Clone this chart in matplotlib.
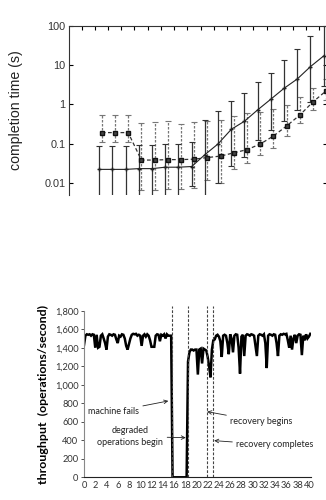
import matplotlib
matplotlib.use("Agg")
import matplotlib.pyplot as plt
import numpy as np

# ---- top chart: completion time (log scale) ----
steps = list(range(1, 19))
solid_mid = [0.022, 0.022, 0.022, 0.023, 0.023, 0.025, 0.025, 0.026, 0.052,
             0.098, 0.23, 0.37, 0.72, 1.35, 2.55, 4.4, 9.1, 17]
solid_hi = [0.087, 0.087, 0.087, 0.092, 0.09, 0.1, 0.1, 0.11, 0.4,
            0.67, 1.23, 1.9, 3.6, 6.4, 13.4, 25, 55, 150]
solid_lo = [0.003, 0.003, 0.003, 0.003, 0.003, 0.003, 0.003, 0.0083, 0.003,
            0.01, 0.027, 0.045, 0.12, 0.22, 0.38, 0.72, 1.17, 3.0]
dash_mid = [0.19, 0.19, 0.19, 0.038, 0.038, 0.039, 0.039, 0.04, 0.044,
            0.048, 0.058, 0.07, 0.097, 0.155, 0.28, 0.53, 1.15, 2.2]
dash_hi = [0.53, 0.53, 0.53, 0.34, 0.35, 0.38, 0.31, 0.36, 0.38,
           0.4, 0.5, 0.6, 0.62, 0.75, 0.95, 1.5, 2.6, 4.3]
dash_lo = [0.11, 0.11, 0.11, 0.0066, 0.0066, 0.0068, 0.007, 0.0075, 0.012,
           0.01, 0.022, 0.032, 0.05, 0.075, 0.16, 0.33, 0.7, 1.3]
dash_shift = 0.19

# ---- bottom chart: throughput, one sample every 0.25 s ----
before_failure = [
    1430, 1530, 1545, 1540, 1545, 1530, 1545, 1540, 1400, 1540, 1400, 1410,
    1530, 1545, 1500, 1450, 1380, 1520, 1545, 1540, 1530, 1545, 1540, 1490,
    1450, 1530, 1520, 1545, 1540, 1500, 1420, 1380, 1440, 1500, 1540, 1550,
    1545, 1550, 1530, 1540, 1530, 1420, 1530, 1545, 1520, 1545, 1530, 1480,
    1410, 1410, 1410, 1530, 1545, 1540, 1470, 1540, 1530, 1545, 1500, 1545,
    1530, 1530, 1530,
]
outage = [0, 0, 0, 0, 0, 0, 0, 0, 0, 0, 0]
degraded = [
    1250, 1350, 1380, 1380, 1370, 1380, 1380, 1110, 1380, 1390,
    1230, 1390, 1380, 1370, 1300, 1200, 1080, 1380,
]
after_recovery = [
    1480, 1490, 1530, 1540, 1520, 1470, 1300, 1530, 1540, 1530, 1450, 1330,
    1545, 1500, 1350, 1530, 1545, 1540, 1400, 1120, 1520, 1540, 1310, 1530,
    1545, 1540, 1530, 1545, 1540, 1530, 1420, 1310, 1530, 1545, 1540, 1530,
    1545, 1450, 1180, 1530, 1545, 1540, 1530, 1545, 1540, 1450, 1310, 1530,
    1545, 1540, 1550, 1545, 1550, 1480, 1400, 1530, 1380, 1500, 1540, 1450,
    1530, 1545, 1540, 1320, 1530, 1480, 1545, 1500, 1520, 1550,
]
throughput = before_failure + outage + degraded + after_recovery
t = np.arange(len(throughput)) * 0.25
events = [15.65, 18.5, 21.9, 23.0]

fig = plt.figure(figsize=(3.26, 5.0), dpi=100)

# top panel
ax1 = fig.add_axes([0.213, 0.61, 0.79, 0.3386])
ax1.set_yscale("log")
x_dash = [s + dash_shift for s in steps]
eb = ax1.errorbar(x_dash, dash_mid,
                  yerr=[np.array(dash_mid) - np.array(dash_lo),
                        np.array(dash_hi) - np.array(dash_mid)],
                  color="#333333", ecolor="#777777", lw=0.9, ls=(0, (3, 2)),
                  marker="s", ms=3.2, mfc="#444444", mec="#111111",
                  elinewidth=0.9, capsize=2.5, capthick=0.8)
eb[2][0].set_linestyle((0, (2, 1.2)))
ax1.errorbar(steps, solid_mid,
             yerr=[np.array(solid_mid) - np.array(solid_lo),
                   np.array(solid_hi) - np.array(solid_mid)],
             color="#222222", ecolor="#333333", lw=0.8,
             marker="+", ms=3.5, elinewidth=0.9, capsize=2.5, capthick=0.8)
ax1.set_xlim(-1.258, 18.25)
ax1.set_ylim(0.0049, 100)
ax1.set_yticks([0.01, 0.1, 1, 10, 100])
ax1.set_yticklabels(["0.01", "0.1", "1", "10", "100"],
                    fontsize=7.8, family="Liberation Sans", color="#333333")
ax1.yaxis.set_minor_locator(matplotlib.ticker.NullLocator())
ax1.set_xticks(np.arange(0, 19) - 0.33)
ax1.tick_params(axis="x", which="both", top=True, bottom=False,
                labelbottom=False, direction="in", length=3)
ax1.tick_params(axis="y", which="major", left=True, right=True,
                direction="in", length=3, pad=3)
ax1.spines["bottom"].set_visible(False)
for s in ["left", "top", "right"]:
    ax1.spines[s].set_color("#333333")
ax1.set_ylabel("completion time (s)", fontsize=10.2, family="Liberation Sans",
               color="#222222", labelpad=15)

# bottom panel
ax2 = fig.add_axes([0.2577, 0.0454, 0.695, 0.3332])
ax2.plot(t, throughput, color="black", lw=1.8, solid_joinstyle="miter")
for ev in events:
    ax2.plot([ev, ev], [0, 1850], color="#444444", lw=0.8,
             ls=(0, (2.5, 1.5)), clip_on=False)
ax2.set_xlim(0, 40.3)
ax2.set_ylim(0, 1800)
ax2.set_yticks(np.arange(0, 1801, 200))
ax2.set_yticklabels([f"{v:,}" for v in range(0, 1801, 200)])
ax2.set_xticks(np.arange(0, 41, 2))
ax2.tick_params(axis="both", labelsize=6.7, colors="#333333", length=2,
                width=0.6, pad=2)
ax2.tick_params(axis="x", length=0, pad=3)
for lab in ax2.get_xticklabels() + ax2.get_yticklabels():
    lab.set_family("Lato")
ax2.spines["top"].set_visible(False)
ax2.spines["right"].set_visible(False)
ax2.spines["left"].set_color("#888888")
ax2.spines["bottom"].set_color("#222222")
ax2.set_ylabel("throughput  (operations/second)", fontsize=8.9,
               family="Lato", fontweight="bold", labelpad=4)

ann = dict(fontsize=6.5, family="Lato", color="#222222", ha="center",
           va="center")
arrow = dict(arrowstyle="->", color="#222222", lw=0.6, shrinkA=1, shrinkB=0)
ax2.annotate("machine fails", xy=(15.0, 825), xytext=(5.2, 709),
             arrowprops=arrow, **ann)
ax2.annotate("degraded\noperations begin", xy=(18.1, 428), xytext=(8.2, 441),
             arrowprops=arrow, linespacing=1.3, **ann)
ax2.annotate("recovery begins", xy=(21.9, 709), xytext=(31.6, 601),
             arrowprops=arrow, **ann)
ax2.annotate("recovery completes", xy=(23.15, 396), xytext=(34.0, 349),
             arrowprops=arrow, **ann)

fig.savefig("out.png", dpi=100)
